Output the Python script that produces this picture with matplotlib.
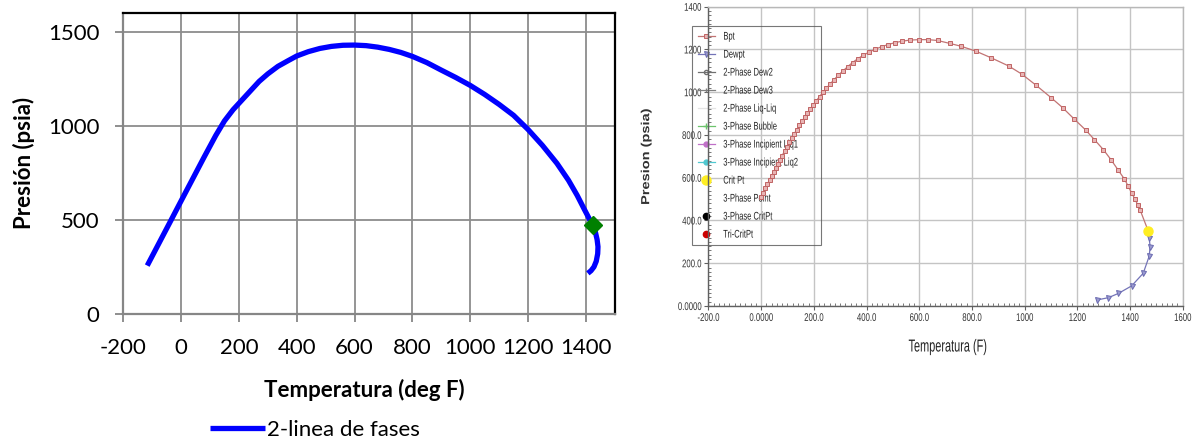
import matplotlib.pyplot as plt
from matplotlib.patheffects import AbstractPathEffect
from matplotlib.ticker import MultipleLocator
from matplotlib.transforms import Affine2D

plt.rcParams['axes.unicode_minus'] = False

# --- left chart: two-phase envelope (Excel style) ---
env_temp = [-117, -90, -60, -34, 0, 40, 80, 120, 150, 180, 210, 240, 270, 300, 335, 370,
            400, 440, 480, 520, 560, 600, 640, 680, 720, 760, 800, 850, 900, 950, 1000,
            1050, 1100, 1150, 1200, 1250, 1300, 1340, 1370, 1395, 1412, 1424, 1433, 1439,
            1442, 1441, 1436, 1428, 1418, 1407]
env_pres = [257, 336, 424, 500, 600, 717, 834, 948, 1025, 1085, 1135, 1185, 1235, 1275, 1315, 1345,
            1370, 1393, 1410, 1421, 1427, 1428, 1425, 1417, 1405, 1389, 1368, 1335, 1295, 1256, 1214,
            1166, 1113, 1055, 980, 895, 800, 710, 630, 555, 505, 471, 435, 395,
            357, 320, 280, 250, 230, 216]
crit_left = (1424, 471)
left_xticks = [-200, 0, 200, 400, 600, 800, 1000, 1200, 1400]
left_yticks = [0, 500, 1000, 1500]

# --- right chart: simulator phase envelope ---
bpt_temp = [0, 8, 16, 24, 32, 40, 48, 56, 64, 72,
            80, 89, 98, 107, 116, 125, 135, 145, 155, 165,
            176, 187, 198, 210, 222, 235, 248, 262, 277, 293,
            310, 328, 347, 367, 388, 410, 433, 457, 482, 508,
            536, 566, 600, 634, 670, 717, 759, 815, 873, 939,
            989, 1042, 1101, 1144, 1186, 1231, 1265, 1299, 1328, 1356,
            1378, 1394, 1406, 1419, 1429, 1438, 1469]
bpt_pres = [510, 530, 550, 570, 590, 609, 628, 647, 666, 685,
            704, 725, 746, 766, 785, 804, 825, 845, 864, 883,
            903, 922, 941, 961, 980, 1000, 1019, 1039, 1059, 1079,
            1099, 1119, 1139, 1157, 1173, 1188, 1201, 1213, 1223, 1232,
            1239, 1244, 1246, 1246, 1242, 1228, 1215, 1192, 1161, 1123,
            1085, 1034, 974, 928, 877, 824, 778, 731, 684, 634,
            595, 559, 528, 500, 473, 450, 351]
dew_temp = [1469, 1473, 1476, 1473, 1450, 1406, 1356, 1318, 1274]
dew_pres = [351, 317, 278, 234, 153, 94, 59, 39, 28]
crit_right = (1469, 351)
right_xticks = [-200, 0, 200, 400, 600, 800, 1000, 1200, 1400, 1600]
right_xlabels = ['-200.0', '0.0000', '200.0', '400.0', '600.0', '800.0', '1000', '1200', '1400', '1600']
right_yticks = [0, 200, 400, 600, 800, 1000, 1200, 1400]
right_ylabels = ['0.0000', '200.0', '400.0', '600.0', '800.0', '1000', '1200', '1400']


class Squeeze(AbstractPathEffect):
    """Draw text compressed horizontally around its left edge, centre or right edge."""

    def __init__(self, sx=0.68, anchor='center'):
        super().__init__()
        self.sx = sx
        self.anchor = anchor

    def draw_path(self, renderer, gc, tpath, affine, rgbFace=None):
        ext = affine.transform_path(tpath).get_extents()
        if self.anchor == 'left':
            x0 = ext.x0
        elif self.anchor == 'right':
            x0 = ext.x1
        else:
            x0 = 0.5 * (ext.x0 + ext.x1)
        squeezed = affine + Affine2D().translate(-x0, 0).scale(self.sx, 1).translate(x0, 0)
        renderer.draw_path(gc, tpath, squeezed, rgbFace)


fig = plt.figure(figsize=(11.93, 4.42), dpi=100)

# ---------- left ----------
ax1 = fig.add_axes([0.1033, 0.2896, 0.412, 0.6817])
ax1.plot(env_temp, env_pres, color='#0000ff', lw=3.8, solid_capstyle='butt',
         solid_joinstyle='round', label='2-linea de fases', zorder=3)
ax1.plot([crit_left[0]], [crit_left[1]], marker='D', ms=9, color='#008000',
         ls='none', zorder=4)
ax1.set_xlim(-200, 1500)
ax1.set_ylim(0, 1600)
ax1.set_xticks(left_xticks)
ax1.set_yticks(left_yticks)
ax1.grid(True, color='#8c8c8c', lw=1.3)
ax1.set_axisbelow(True)
for side in ['top', 'right']:
    ax1.spines[side].set_color('#000000')
    ax1.spines[side].set_linewidth(1.6)
for side in ['left', 'bottom']:
    ax1.spines[side].set_color('#868686')
    ax1.spines[side].set_linewidth(1.6)
ax1.tick_params(direction='out', length=6, width=1.3, color='#868686',
                labelsize=16, pad=11)
for lab in ax1.get_xticklabels() + ax1.get_yticklabels():
    lab.set_family('Lato')
ax1.set_xlabel('Temperatura (deg F)', family='Lato', fontsize=16, fontweight='bold', va='top')
ax1.set_ylabel('Presión (psia)', family='Lato', fontsize=16, fontweight='bold')
ax1.xaxis.set_label_coords(0.49, -0.215)
ax1.yaxis.set_label_coords(-0.179, 0.5)
fig.legend(handles=ax1.get_lines()[:1], loc='center', bbox_to_anchor=(0.264, 0.027),
           frameon=False, handlelength=2.5, handletextpad=0.1, borderpad=0,
           prop={'family': 'Lato', 'size': 16})

# ---------- right ----------
arial = ['Liberation Sans', 'DejaVu Sans']
ax2 = fig.add_axes([0.5938, 0.3077, 0.3976, 0.6771])
ax2.plot(bpt_temp, bpt_pres, color='#c27474', lw=0.9, marker='s', ms=3.2,
         mfc='#e8b4b4', mec='#c06464', mew=0.7, label='Bpt', zorder=3)
ax2.plot(dew_temp, dew_pres, color='#7474b8', lw=0.9, marker='v', ms=3.6,
         mfc='#9a9ad0', mec='#6a6ab0', mew=0.7, label='Dewpt', zorder=3)
ax2.plot([], [], color='#707070', lw=0.9, marker='o', ms=3, mfc='none', label='2-Phase Dew2')
ax2.plot([], [], color='#808080', lw=0.9, marker='|', ms=3, label='2-Phase Dew3')
ax2.plot([], [], color='#e4e4e4', lw=0.9, label='2-Phase Liq-Liq')
ax2.plot([], [], color='#6cc46c', lw=0.9, marker='+', ms=4, label='3-Phase Bubble')
ax2.plot([], [], color='#c070c8', lw=0.9, marker='o', ms=3.5, label='3-Phase Incipient Liq1')
ax2.plot([], [], color='#50c8d0', lw=0.9, marker='o', ms=3.5, label='3-Phase Incipient Liq2')
ax2.plot([crit_right[0]], [crit_right[1]], ls='none', marker='o', ms=6.5,
         color='#ffee22', label='Crit Pt', zorder=5)
ax2.plot([], [], color='white', lw=0.9, label='3-Phase Point')
ax2.plot([], [], ls='none', marker='o', ms=4.5, color='#000000', label='3-Phase CritPt')
ax2.plot([], [], ls='none', marker='o', ms=4.5, color='#cc0000', label='Tri-CritPt')

ax2.set_xlim(-200, 1600)
ax2.set_ylim(0, 1400)
ax2.set_xticks(right_xticks)
ax2.set_xticklabels(right_xlabels)
ax2.set_yticks(right_yticks)
ax2.set_yticklabels(right_ylabels)
ax2.xaxis.set_minor_locator(MultipleLocator(20))
ax2.yaxis.set_minor_locator(MultipleLocator(20))
ax2.grid(True, which='major', color='#c4c4c4', lw=1.0)
ax2.set_axisbelow(True)
for side in ['top', 'right']:
    ax2.spines[side].set_color('#b8b8b8')
    ax2.spines[side].set_linewidth(1.0)
for side in ['left', 'bottom']:
    ax2.spines[side].set_color('#606060')
    ax2.spines[side].set_linewidth(1.0)
ax2.tick_params(which='major', direction='out', length=3, width=0.8, color='#606060',
                labelsize=8, labelcolor='#333333', pad=2)
ax2.tick_params(which='minor', direction='in', length=2.5, width=0.6, color='#606060')
for lab in ax2.get_xticklabels():
    lab.set_family(arial)
    lab.set_path_effects([Squeeze(0.7, 'center')])
for lab in ax2.get_yticklabels():
    lab.set_family(arial)
    lab.set_path_effects([Squeeze(0.7, 'right')])
ax2.set_xlabel('Temperatura (F)', family=arial, fontsize=12.5, color='#222222', va='top',
               path_effects=[Squeeze(0.63, 'center')])
ax2.set_ylabel('Presion (psia)', family=arial, fontsize=10.5,
               fontweight='bold', color='#333333', path_effects=[Squeeze(0.8, 'center')])
ax2.xaxis.set_label_coords(0.505, -0.112)
ax2.yaxis.set_label_coords(-0.117, 0.5)

leg = ax2.legend(loc='upper left', bbox_to_anchor=(-0.0346, 0.5, 0.272, 0.4355), mode='expand',
                 fancybox=False, edgecolor='#555555', prop={'family': arial, 'size': 8},
                 labelspacing=0.72, handlelength=1.6, handletextpad=0.7,
                 borderpad=0.5, borderaxespad=0)
leg.get_frame().set_linewidth(0.8)
leg.get_frame().set_facecolor('none')
leg.set_zorder(1)
for txt in leg.get_texts():
    txt.set_color('#222222')
    txt.set_path_effects([Squeeze(0.68, 'left')])

fig.savefig('out.png', dpi=100)
